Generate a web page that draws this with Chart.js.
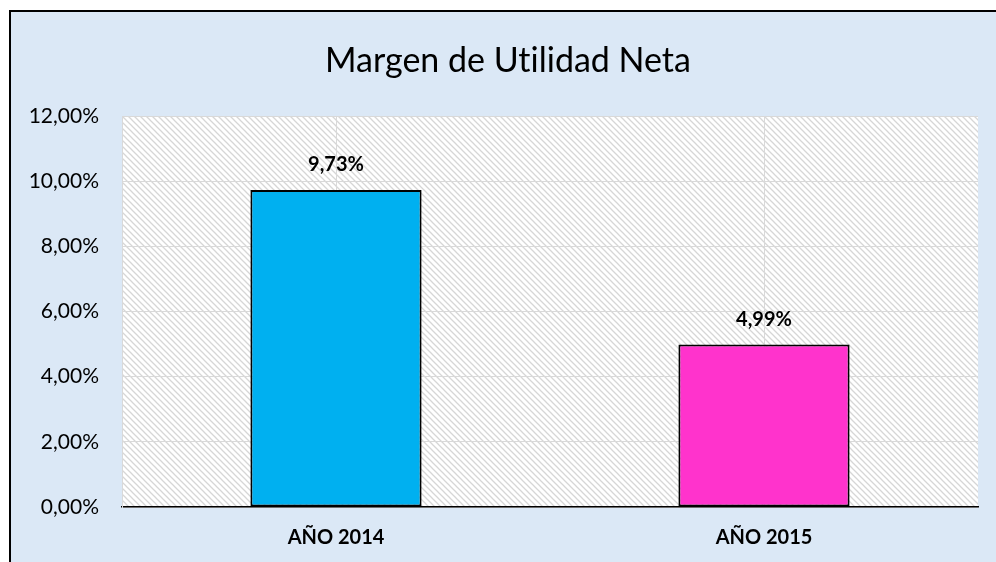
<!DOCTYPE html>
<html>
<head>
<meta charset="utf-8">
<script src="https://cdn.jsdelivr.net/npm/chart.js@4.4.0/dist/chart.umd.min.js"></script>
<style>
  html, body { margin: 0; padding: 0; background: #fff; }
  #wrap { width: 996px; height: 562px; position: relative; }
</style>
</head>
<body>
<div id="wrap"><canvas id="margenChart"></canvas></div>
<script>
const years = ["AÑO 2014", "AÑO 2015"];
const margins = [9.73, 4.99];
const barColors = ["#00b0f0", "#ff33cc"];
// ZWNJ keeps Lato from joining "ti" into a ligature
const chartTitle = "Margen de Ut\u200Cilidad Neta";

const fmtPct = v => v.toFixed(2).replace(".", ",") + "%";

// diagonal hatch used as plot area fill
function makeHatch() {
  const n = 6;
  const c = document.createElement("canvas");
  c.width = n; c.height = n;
  const g = c.getContext("2d");
  g.fillStyle = "#ffffff";
  g.fillRect(0, 0, n, n);
  g.strokeStyle = "#d6d6d6";
  g.lineWidth = 1.3;
  g.beginPath();
  g.moveTo(-1, -1); g.lineTo(n + 1, n + 1);
  g.moveTo(-1, n - 1); g.lineTo(1, n + 1);
  g.moveTo(n - 1, -1); g.lineTo(n + 1, 1);
  g.stroke();
  return g.createPattern(c, "repeat");
}

const backdrop = {
  id: "backdrop",
  beforeDraw(chart) {
    const { ctx, width, height, chartArea: a } = chart;
    ctx.save();
    ctx.fillStyle = "#ffffff";
    ctx.fillRect(0, 0, width, height);
    ctx.fillStyle = "#dbe8f6";
    ctx.fillRect(10, 11, width - 10, height - 11);
    ctx.strokeStyle = "#000";
    ctx.lineWidth = 2;
    ctx.beginPath();
    ctx.moveTo(10, height);
    ctx.lineTo(10, 11);
    ctx.lineTo(width, 11);
    ctx.stroke();
    ctx.fillStyle = makeHatch();
    ctx.fillRect(a.left, a.top, a.right - a.left, a.bottom - a.top);
    // title
    ctx.fillStyle = "#000";
    ctx.font = "34px Lato";
    ctx.textAlign = "center";
    ctx.textBaseline = "middle";
    ctx.fillText(chartTitle, 508, 61);
    ctx.restore();
  }
};

const valueLabels = {
  id: "valueLabels",
  afterDatasetsDraw(chart) {
    const { ctx } = chart;
    const meta = chart.getDatasetMeta(0);
    ctx.save();
    ctx.fillStyle = "#000";
    ctx.font = "bold 20px Lato";
    ctx.textAlign = "center";
    ctx.textBaseline = "middle";
    meta.data.forEach((bar, i) => {
      ctx.fillText(fmtPct(margins[i]), bar.x, bar.y - 25);
    });
    ctx.restore();
  }
};

new Chart(document.getElementById("margenChart"), {
  type: "bar",
  data: {
    labels: years,
    datasets: [{
      data: margins,
      backgroundColor: barColors,
      borderColor: "#000",
      borderWidth: 2,
      borderSkipped: false,
      categoryPercentage: 0.4,
      barPercentage: 1
    }]
  },
  options: {
    responsive: true,
    maintainAspectRatio: false,
    animation: false,
    layout: { padding: { top: 116, right: 18, left: 0, bottom: 0 } },
    plugins: { legend: { display: false }, tooltip: { enabled: false } },
    scales: {
      x: {
        afterFit: s => { s.height = 55; },
        grid: { offset: false, color: "#d9d9d9", drawTicks: false },
        border: { color: "#000", width: 1.5 },
        ticks: { color: "#000", font: { family: "Lato", size: 20, weight: "bold" }, padding: 19 }
      },
      y: {
        min: 0, max: 12,
        afterFit: s => { s.width = 122; },
        grid: { color: "#d9d9d9", drawTicks: false },
        border: { color: "#d9d9d9" },
        ticks: {
          stepSize: 2,
          color: "#000",
          padding: 23,
          font: { family: "Lato", size: 21 },
          callback: v => fmtPct(v)
        }
      }
    }
  },
  plugins: [backdrop, valueLabels]
});
</script>
</body>
</html>
